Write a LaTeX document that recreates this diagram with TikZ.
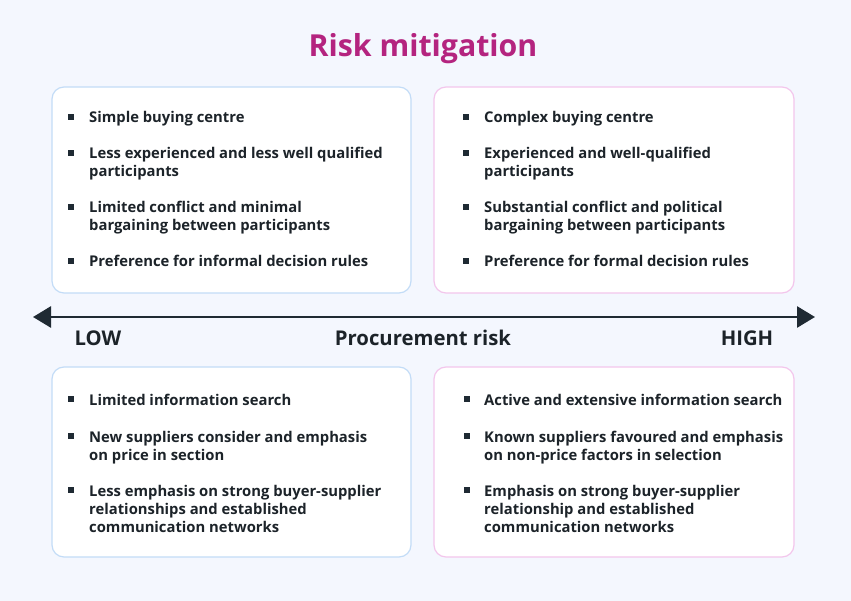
\documentclass[tikz,border=0pt]{standalone}
\usepackage{fontspec}
\setmainfont{Open Sans}
\usetikzlibrary{arrows.meta}
\definecolor{bg}{HTML}{F4F7FE}
\definecolor{bluebd}{HTML}{C3DCF7}
\definecolor{pinkbd}{HTML}{F3C6EC}
\definecolor{titlec}{HTML}{B4247F}
\definecolor{ink}{HTML}{1C2329}
\definecolor{arrowc}{HTML}{1F2A33}
\tikzset{
  panel/.style={draw, line width=1.2pt, fill=white, rounded corners=12pt},
  bpanel/.style={panel, draw=bluebd},
  ppanel/.style={panel, draw=pinkbd},
  itm/.style={anchor=base west, inner sep=0pt, text=ink,
    font=\fontsize{14.8}{18}\selectfont\bfseries},
  bul/.style={fill=arrowc, minimum size=6pt, inner sep=0pt},
  axlab/.style={anchor=base, inner sep=0pt, text=ink, font=\fontsize{20.3}{22}\selectfont\bfseries},
}
\begin{document}
\begin{tikzpicture}[x=1pt,y=-1pt]
\useasboundingbox[fill=bg] (0,0) rectangle (851,601);
\node[anchor=base, inner sep=0pt, text=titlec, font=\fontsize{30.3}{34}\selectfont\bfseries] (title) at (423,57) {Risk mitigation};
% panels
\draw[bpanel] (52,87) rectangle (411,293);
\draw[ppanel] (434,87) rectangle (794,293);
\draw[bpanel] (52,367) rectangle (411,557);
\draw[ppanel] (434,367) rectangle (794,557);
% top-left
\node[bul] (tlb1) at (71,117) {}; \node[itm] (tl1) at (89,123) {Simple buying centre};
\node[bul] (tlb2) at (71,153) {}; \node[itm] (tl2) at (89,159) {\vtop{\hbox{Less experienced and less well qualified}\hbox{participants}}};
\node[bul] (tlb3) at (71,207) {}; \node[itm] (tl3) at (89,213) {\vtop{\hbox{Limited conflict and minimal}\hbox{bargaining between participants}}};
\node[bul] (tlb4) at (71,261) {}; \node[itm] (tl4) at (89,267) {Preference for informal decision rules};
% top-right
\node[bul] (trb1) at (466,117) {}; \node[itm] (tr1) at (484,123) {Complex buying centre};
\node[bul] (trb2) at (466,153) {}; \node[itm] (tr2) at (484,159) {\vtop{\hbox{Experienced and well-qualified}\hbox{participants}}};
\node[bul] (trb3) at (466,207) {}; \node[itm] (tr3) at (484,213) {\vtop{\hbox{Substantial conflict and political}\hbox{bargaining between participants}}};
\node[bul] (trb4) at (466,261) {}; \node[itm] (tr4) at (484,267) {Preference for formal decision rules};
% bottom-left
\node[bul] (blb1) at (71,399) {}; \node[itm] (bl1) at (89,405) {Limited information search};
\node[bul] (blb2) at (71,436) {}; \node[itm] (bl2) at (89,442) {\vtop{\hbox{New suppliers consider and emphasis}\hbox{on price in section}}};
\node[bul] (blb3) at (71,490) {}; \node[itm] (bl3) at (89,496) {\vtop{\hbox{Less emphasis on strong buyer-supplier}\hbox{relationships and established}\hbox{communication networks}}};
% bottom-right
\node[bul] (brb1) at (467,399) {}; \node[itm] (br1) at (484,405) {Active and extensive information search};
\node[bul] (brb2) at (467,436) {}; \node[itm] (br2) at (484,442) {\vtop{\hbox{Known suppliers favoured and emphasis}\hbox{on non-price factors in selection}}};
\node[bul] (brb3) at (467,490) {}; \node[itm] (br3) at (484,496) {\vtop{\hbox{Emphasis on strong buyer-supplier}\hbox{relationship and established}\hbox{communication networks}}};
% axis
\coordinate (axl) at (33,317);
\coordinate (axr) at (815,317);
\draw[arrowc, line width=2.8pt, {Triangle[length=18pt,width=21pt]}-{Triangle[length=18pt,width=21pt]}] (axl) -- (axr);
\node[axlab] (low) at (98,345) {LOW};
\node[axlab] (risk) at (423,345) {Procurement risk};
\node[axlab] (high) at (747,345) {HIGH};
\end{tikzpicture}
\end{document}
